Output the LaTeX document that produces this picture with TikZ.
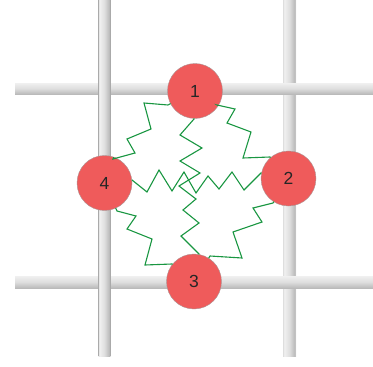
\documentclass[tikz,border=0pt]{standalone}
\usepackage{fontspec}
\setmainfont{Liberation Sans}
\definecolor{mass}{RGB}{239,91,91}
\definecolor{ring}{RGB}{170,150,150}
\definecolor{coil}{RGB}{25,150,65}
\definecolor{barlight}{RGB}{240,240,240}
\definecolor{barmid}{RGB}{222,222,222}
\definecolor{bardark}{RGB}{186,186,186}
\definecolor{railedge}{RGB}{170,170,170}

\pgfdeclarehorizontalshading{vbar}{100bp}{
  color(0bp)=(barlight); color(25bp)=(barmid); color(30bp)=(barlight); color(50bp)=(barmid); color(70bp)=(bardark); color(75bp)=(barmid); color(100bp)=(barmid)}
\pgfdeclareverticalshading{hbar}{100bp}{
  color(0bp)=(bardark); color(25bp)=(bardark); color(50bp)=(barmid); color(75bp)=(barlight); color(100bp)=(barlight)}

\begin{document}
\begin{tikzpicture}[x=1pt, y=-1pt,
  rail/.style={shading=vbar},
  beam/.style={shading=hbar},
  mass/.style={circle, draw=ring, fill=mass, minimum size=55pt, inner sep=0pt, outer sep=0pt, text=black!85, font=\fontsize{17.5}{17.5}\selectfont},
  spring/.style={draw=coil, line width=1.1pt, line join=miter}]
  \useasboundingbox (0,0) rectangle (373,367);
  % frame
  \shade[rail] (283,0) rectangle (296,356);
  \shade[beam] (15,83) rectangle (373,94);
  \shade[beam] (15,276) rectangle (373,288);
  \shade[rail] (98.5,0) rectangle (110.5,356);
  \draw[railedge, line width=0.8pt] (98.5,0) -- (98.5,356);
  \draw[railedge, line width=0.8pt] (110.5,0) -- (110.5,356);
  % masses
  \node[mass] (n1) at (195,91) {1};
  \node[mass] (n2) at (288.5,178.5) {2};
  \node[mass] (n3) at (194,281.5) {3};
  \node[mass] (n4) at (104.5,183) {4};
  % springs
  \draw[spring] (n1) -- (168,105) -- (144,103) -- (151,129) -- (127,139) -- (135,153) -- (113,159) -- (n4);
  \draw[spring] (n1) -- (217,105) -- (235,109) -- (227,123) -- (251,132) -- (243,158) -- (270,157) -- (n2);
  \draw[spring] (n1) -- (194,119) -- (180,135) -- (202,148) -- (180,161) -- (200,173) -- (179,186) -- (196,199)
    -- (183,210) -- (199,223) -- (181,236) -- (199,254) -- (n3);
  \draw[spring] (n4) -- (132,180) -- (147,192) -- (159,170) -- (172,191) -- (184,172) -- (196,193) -- (208,176)
    -- (219,189) -- (232,172) -- (244,190) -- (261,173) -- (n2);
  \draw[spring] (n4) -- (117,211) -- (136,216) -- (127,229) -- (152,239) -- (145,265) -- (172,264) -- (n3);
  \draw[spring] (n3) -- (210,256) -- (242,258) -- (233,232) -- (262,222) -- (253,208) -- (273,203) -- (n2);
\end{tikzpicture}
\end{document}
